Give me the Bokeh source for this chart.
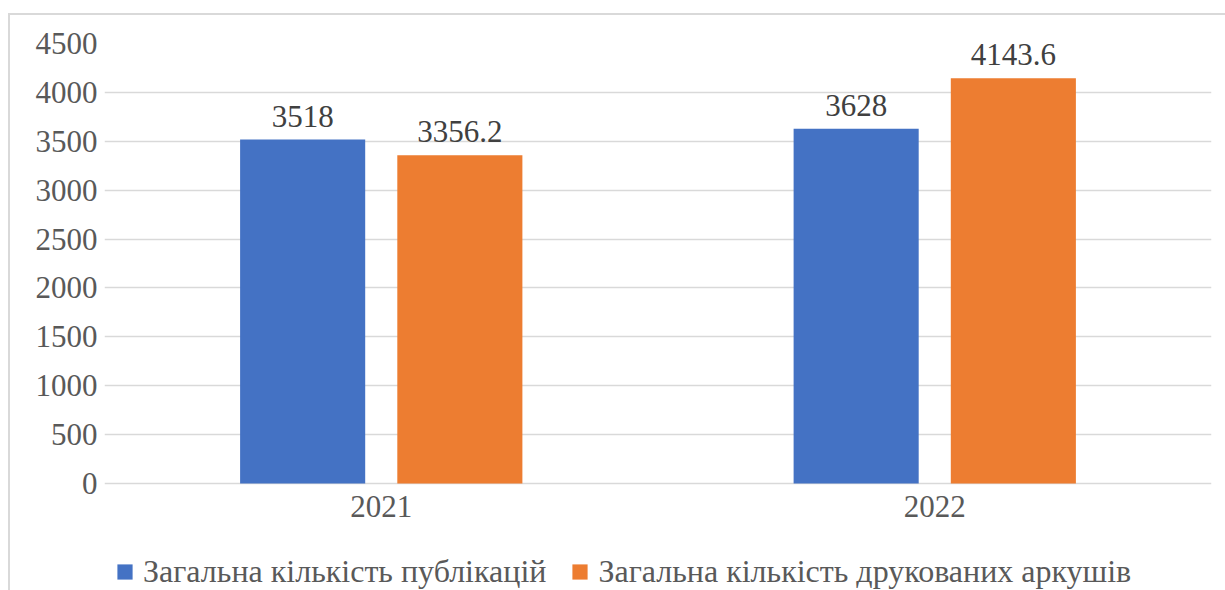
from bokeh.plotting import figure
from bokeh.models import (ColumnDataSource, FactorRange, Range1d, LabelSet, Legend,
                          LegendItem, FixedTicker)
from bokeh.transform import dodge
from bokeh.embed import file_html
from bokeh.resources import INLINE

years = ["2021", "2022"]
publications = [3518, 3628]
sheets = [3356.2, 4143.6]
pub_labels = ["3518", "3628"]
sheet_labels = ["3356.2", "4143.6"]
series_names = ["Загальна кількість публікацій", "Загальна кількість друкованих аркушів"]
y_ticks = [0, 500, 1000, 1500, 2000, 2500, 3000, 3500, 4000, 4500]
y_max = 4500

FONT = "Liberation Serif"
BLUE = "#4472C4"
ORANGE = "#ED7D31"
GRID = "#d9d9d9"

# layout (pixels): value axis spans 440px; 107px below the zero line hold
# the category labels and the legend
AXIS_PX = 440
BELOW_PX = 107
y_min = -y_max * BELOW_PX / AXIS_PX

src = ColumnDataSource(dict(year=years, pub=publications, sheets=sheets,
                            pub_lbl=pub_labels, sheet_lbl=sheet_labels,
                            base=[0] * len(years)))

p = figure(x_range=FactorRange(*years), y_range=Range1d(y_min, y_max),
           frame_width=1107, frame_height=AXIS_PX + BELOW_PX,
           output_backend="svg", toolbar_location=None,
           min_border_left=104, min_border_right=14, min_border_top=43, min_border_bottom=0)
p.outline_line_color = None
p.background_fill_color = "white"
p.border_fill_alpha = 0
p.styles = {
    "background": ("linear-gradient(#d9d9d9,#d9d9d9) 8px 13px / 2px 100% no-repeat, "
                   "linear-gradient(#d9d9d9,#d9d9d9) 8px 13px / 100% 2px no-repeat, white")
}

r1 = p.vbar(x=dodge("year", -0.142, range=p.x_range), top="pub", width=0.226,
            source=src, color=BLUE, line_color=None)
r2 = p.vbar(x=dodge("year", 0.142, range=p.x_range), top="sheets", width=0.226,
            source=src, color=ORANGE, line_color=None)

for col, lbl, off in (("pub", "pub_lbl", -0.142), ("sheets", "sheet_lbl", 0.142)):
    ls = LabelSet(x=dodge("year", off, range=p.x_range), y=col, text=lbl, source=src,
                  text_align="center", text_baseline="alphabetic", y_offset=13,
                  text_font=FONT, text_font_size="31px", text_color="#404040")
    p.add_layout(ls)

# category labels under the zero line
cat = LabelSet(x="year", y="base", text="year", source=src, text_align="center",
               text_baseline="top", y_offset=-12, text_font=FONT, text_font_size="31px",
               text_color="#595959")
p.add_layout(cat)

p.xgrid.grid_line_color = None
p.ygrid.ticker = FixedTicker(ticks=y_ticks)
p.ygrid.grid_line_color = GRID
p.ygrid.grid_line_width = 1.5
p.yaxis.ticker = FixedTicker(ticks=y_ticks)
p.yaxis.axis_line_color = None
p.yaxis.major_tick_line_color = None
p.yaxis.minor_tick_line_color = None
p.yaxis.major_tick_out = 0
p.yaxis.major_tick_in = 0
p.yaxis.major_label_standoff = 7
p.yaxis.major_label_text_font = FONT
p.yaxis.major_label_text_font_size = "31px"
p.yaxis.major_label_text_color = "#595959"
p.xaxis.visible = False

legend = Legend(items=[LegendItem(label=series_names[0], renderers=[r1]),
                       LegendItem(label=series_names[1], renderers=[r2])],
                orientation="horizontal", location=(11, 0),
                label_text_font=FONT, label_text_font_size="32px", label_text_color="#595959",
                glyph_width=19, glyph_height=19, label_standoff=9, spacing=24,
                padding=0, margin=0, border_line_color=None, background_fill_alpha=0)
p.add_layout(legend, "center")

open("out.html", "w").write(file_html(p, INLINE))
